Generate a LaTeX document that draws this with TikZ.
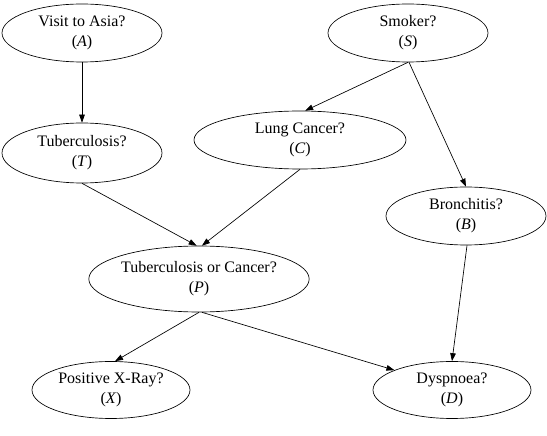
\documentclass[tikz,border=0pt]{standalone}
\usepackage{fontspec}
\setmainfont{Liberation Serif}
\usetikzlibrary{arrows.meta, shapes.geometric, positioning}

\begin{document}
\begin{tikzpicture}[x=0.75pt,y=0.75pt,->,>={Triangle[length=6pt,width=4.2pt]},line width=0.5pt]
          \tikzstyle{var}=[ellipse,draw=black,fill=white,text=black,inner sep=0pt,align=center,font=\fontsize{12}{15}\selectfont]
          \useasboundingbox (0,0) rectangle (547,436);

          \node[var, minimum width=120pt, minimum height=43.5pt] (A) at (82,403) {Visit to Asia?\\(\textit{A})};
          \node[var, minimum width=120pt, minimum height=43.5pt] (S) at (408,403) {Smoker?\\(\textit{S})};
          \node[var, minimum width=120pt, minimum height=45pt] (T) at (82,283) {Tuberculosis?\\(\textit{T})};
          \node[var, minimum width=159pt, minimum height=43.5pt] (C) at (300,296) {Lung Cancer?\\(\textit{C})};
          \node[var, minimum width=120pt, minimum height=43.5pt] (B) at (466,220) {Bronchitis?\\(\textit{B})};
          \node[var, minimum width=159pt, minimum height=49.5pt] (P) at (199,157) {Tuberculosis or Cancer?\\(\textit{P})};
          \node[var, minimum width=118.5pt, minimum height=42.75pt] (X) at (111,46) {Positive X-Ray?\\(\textit{X})};
          \node[var, minimum width=118.5pt, minimum height=42.75pt] (D) at (452,46) {Dyspnoea?\\(\textit{D})};

          \path (A.south) edge (T.north)
                (S.south) edge (C.80)
                (S.-88) edge (B.north)
                (T.south) edge (P.94)
                (C.south) edge (P.85)
                (P.south) edge (X.82)
                (P.-85) edge (D.161)
                (B.-88) edge (D.north);
        \end{tikzpicture}
\end{document}
